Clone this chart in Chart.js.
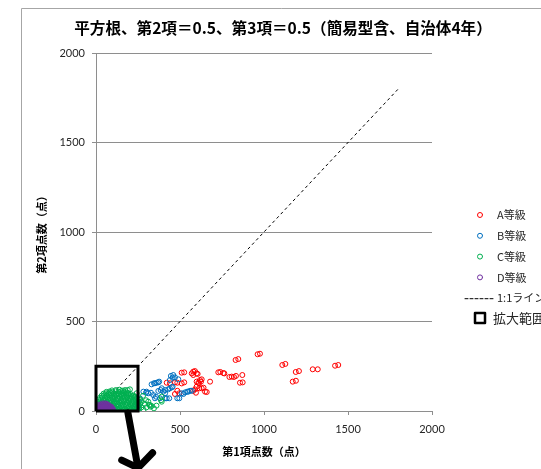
<!DOCTYPE html>
<html>
<head>
<meta charset="utf-8">
<script src="https://cdn.jsdelivr.net/npm/chart.js@4"></script>
<style>
  html, body { margin: 0; padding: 0; background: #fff; }
  canvas { display: block; }
</style>
</head>
<body>
<canvas id="c" width="541" height="469"></canvas>
<script>
// ---- text ----
const titleText = '平方根、第2項＝0.5、第3項＝0.5（簡易型含、自治体4年）';
const xTitle = '第1項点数（点）';
const yTitle = '第2項点数（点）';
const seriesNames = ['A等級', 'B等級', 'C等級', 'D等級'];
const refLineName = '1:1ライン';
const boxName = '拡大範囲';
const axisTicks = [0, 500, 1000, 1500, 2000];

// ---- data: [第1項点数, 第2項点数] ----
const gradeA = [
  [421,158],[440,155],[470,160],[484,158],[470,95],[484,113],[496,99],[510,154],[525,160],
  [510,214],[525,216],[579,220],[589,223],[605,207],[570,210],[599,210],[579,201],
  [599,164],[613,155],[625,164],[619,173],[629,177],[609,158],[599,136],[615,127],[629,127],
  [589,121],[579,113],[649,108],[659,106],[595,102],[640,130],[679,164],
  [728,216],[740,218],[758,212],[764,210],[794,190],[808,192],[821,190],[833,196],[871,201],
  [857,158],[873,160],[831,285],[847,290],[962,317],[976,320],
  [1109,257],[1127,263],[1189,218],[1208,223],[1171,164],[1190,169],
  [1290,233],[1320,233],[1423,253],[1442,257]
];
const gradeB = [
  [282,108],[298,102],[311,99],[327,102],[331,149],[351,155],[371,160],[341,89],[357,80],
  [371,112],[385,117],[401,108],[411,99],[421,71],[436,71],[440,127],[456,136],[446,196],
  [460,201],[470,188],[490,177],[484,71],[496,71],[510,99],[530,104],[543,108],[560,113],
  [301,108],[361,158],[376,164],[345,155],[351,71],[381,71],[411,71],[391,127],[411,117],
  [430,121],[451,132],[440,173],[456,186],[549,108],[570,113],[520,95],
  [232,20],[245,45],[240,60],[255,30],[250,8],[262,70],[238,35]
];
const gradeC = [
  [12,4],[28,6],[41,3],[57,7],[73,5],[88,2],[104,6],[119,4],[133,8],[148,3],[162,6],[177,5],
  [191,2],[206,7],[219,4],[233,6],[247,3],
  [7,16],[22,14],[36,17],[51,13],[66,15],[80,18],[95,14],[111,16],[126,13],[140,17],[155,15],
  [170,12],[184,16],[199,14],[213,18],[228,13],[242,15],[256,17],
  [3,28],[18,26],[33,29],[47,25],[61,27],[76,30],[92,26],[107,28],[121,24],[136,29],[151,27],
  [166,25],[180,30],[194,26],[209,28],[224,24],[238,29],[252,27],
  [10,40],[25,38],[40,41],[55,37],[69,39],[84,42],[99,38],[113,40],[129,36],[144,41],[158,39],
  [173,37],[188,42],[203,38],[217,40],[231,36],[246,41],[262,39],
  [6,50],[20,52],[35,49],[50,53],[64,51],[79,48],[94,52],[109,50],[124,54],[139,49],[153,51],
  [168,53],[183,48],[197,52],[212,50],[226,54],[241,49],[255,52],
  [15,62],[30,64],[44,61],[59,65],[73,63],[88,60],[103,64],[118,62],[133,66],[148,61],[163,63],
  [177,65],[192,60],[206,64],[221,62],[236,66],
  [24,74],[38,76],[53,73],[67,77],[82,75],[97,72],[112,76],[127,74],[142,78],[157,73],[171,75],
  [186,77],[200,72],[215,76],[230,74],
  [34,86],[48,88],[63,85],[78,89],[93,87],[108,84],[122,88],[137,86],[152,90],[166,85],[181,87],
  [195,89],[210,84],[224,86],
  [45,97],[60,99],[75,96],[90,100],[105,98],[120,95],[134,99],[149,97],[164,101],[178,96],
  [193,98],[207,94],
  [62,107],[80,109],[98,106],[116,110],[133,108],[150,111],[168,106],[185,104],
  [95,115],[118,117],[140,119],[160,114],
  [173,117],[189,117],[202,121],[242,99],[232,80],[246,70],[262,61],[272,52],[311,52],
  [321,34],[325,24],[317,34],[331,28],[391,80],[391,52],[387,60],[298,60],[280,85],
  [300,20],[345,15],[290,40],[270,20],[283,8],[360,30]
];
const gradeD = [
  [2,3],[14,4],[26,2],[38,3],[50,4],[62,2],[74,3],[86,4],[98,2],
  [6,11],[18,10],[30,12],[42,11],[54,10],[66,12],[78,11],[90,10],[102,9],
  [1,19],[12,18],[24,20],[36,19],[48,18],[60,20],[72,19],[84,18],[95,17],
  [8,27],[20,26],[32,28],[44,27],[56,26],[68,28],[80,26],[90,24],
  [15,35],[28,34],[40,36],[52,35],[64,34],[76,33],
  [35,42],[50,43],[62,41]
];
const refLine = [[0, 0], [1800, 1800]];
const zoomBox = [[0, 0], [250, 0], [250, 250], [0, 250], [0, 0]];
// arrow pointing down out of the enlarged range (data units)
const arrowShaft = [[190, -11], [250, -318]];
const arrowHead = [[153, -274], [250, -318], [337, -233]];

const colA = '#FF0000', colB = '#0070C0', colC = '#00B050', colD = '#7030A0';
const gridCol = '#8e8e8e';
const textCol = '#262626';
const cjk = '"Noto Sans CJK JP", "Noto Sans", sans-serif';
const numFont = 'Lato, "Noto Sans", sans-serif';

const toPts = a => a.map(([x, y]) => ({ x, y }));
const marker = (label, color, order, data) => ({
  label, data: toPts(data), order,
  borderColor: color, pointBorderColor: color,
  backgroundColor: 'rgba(0,0,0,0)', pointBackgroundColor: 'rgba(0,0,0,0)',
  pointRadius: 2.5, pointBorderWidth: 1, pointStyle: 'circle', showLine: false
});

const datasets = [
  marker(seriesNames[0], colA, 4, gradeA),
  marker(seriesNames[1], colB, 3, gradeB),
  marker(seriesNames[2], colC, 2, gradeC),
  marker(seriesNames[3], colD, 1, gradeD),
  { label: refLineName, data: toPts(refLine), order: 5, showLine: true,
    borderColor: '#000', borderWidth: 1, borderDash: [3, 3], pointRadius: 0, fill: false },
  { label: boxName, data: toPts(zoomBox), order: 0, showLine: true, clip: false,
    borderColor: '#000', borderWidth: 3, pointRadius: 0, fill: false, tension: 0 }
];

// white background, outer frame and title
const framePlugin = {
  id: 'frame',
  beforeDraw(chart) {
    const ctx = chart.ctx;
    ctx.save();
    ctx.fillStyle = '#fff';
    ctx.fillRect(0, 0, chart.width, chart.height);
    ctx.strokeStyle = '#a6a6a6';
    ctx.lineWidth = 1;
    ctx.beginPath();
    ctx.moveTo(21.5, chart.height);
    ctx.lineTo(21.5, 8.5);
    ctx.lineTo(chart.width, 8.5);
    ctx.stroke();
    ctx.fillStyle = '#000';
    ctx.font = 'bold 15.6px ' + cjk;
    ctx.textAlign = 'center';
    ctx.textBaseline = 'middle';
    ctx.fillText(titleText, 283, 28);
    ctx.restore();
  }
};

// legend on the right and the arrow below the enlarged range
const overlayPlugin = {
  id: 'overlay',
  afterDraw(chart) {
    const ctx = chart.ctx;
    const xs = chart.scales.x, ys = chart.scales.y;
    const px = p => [xs.getPixelForValue(p[0]), ys.getPixelForValue(p[1])];
    ctx.save();
    // arrow
    ctx.strokeStyle = '#000';
    ctx.lineWidth = 7;
    ctx.lineCap = 'round';
    ctx.lineJoin = 'round';
    ctx.beginPath();
    arrowShaft.forEach((p, i) => { const [a, b] = px(p); i ? ctx.lineTo(a, b) : ctx.moveTo(a, b); });
    ctx.stroke();
    ctx.beginPath();
    arrowHead.forEach((p, i) => { const [a, b] = px(p); i ? ctx.lineTo(a, b) : ctx.moveTo(a, b); });
    ctx.stroke();

    // legend
    const mx = 480, tx = 497;
    const rows = [215, 235.8, 256.6, 277.4, 298.2, 318];
    ctx.textAlign = 'left';
    ctx.textBaseline = 'middle';
    chart.data.datasets.forEach((ds, i) => {
      const y = rows[i];
      ctx.setLineDash([]);
      if (i < 4) {
        ctx.lineWidth = 1;
        ctx.strokeStyle = ds.borderColor;
        ctx.beginPath();
        ctx.arc(mx, y, 2.5, 0, Math.PI * 2);
        ctx.stroke();
        ctx.font = '11px ' + cjk;
      } else if (i === 4) {
        ctx.lineWidth = 1;
        ctx.strokeStyle = '#000';
        ctx.setLineDash([3, 2]);
        ctx.beginPath();
        ctx.moveTo(465, y + 0.5);
        ctx.lineTo(493, y + 0.5);
        ctx.stroke();
        ctx.font = '11px ' + cjk;
      } else {
        ctx.lineWidth = 2.5;
        ctx.strokeStyle = '#000';
        ctx.strokeRect(mx - 5, y - 5, 10, 10);
        ctx.font = '13px ' + cjk;
      }
      ctx.fillStyle = textCol;
      ctx.fillText(ds.label, i === 5 ? 493 : tx, y);
    });
    ctx.restore();
  }
};

const axisCommon = {
  type: 'linear', min: 0, max: 2000,
  afterBuildTicks: s => { s.ticks = axisTicks.map(v => ({ value: v })); },
  border: { display: true, color: gridCol, width: 1 }
};

new Chart(document.getElementById('c'), {
  type: 'scatter',
  data: { datasets },
  options: {
    responsive: false,
    animation: false,
    events: [],
    devicePixelRatio: 1,
    layout: { padding: { left: 0, right: 109, top: 53, bottom: 0 } },
    plugins: { legend: { display: false }, tooltip: { enabled: false }, title: { display: false } },
    scales: {
      x: Object.assign({}, axisCommon, {
        position: 'bottom',
        afterFit: s => { s.height = 58; },
        grid: { drawOnChartArea: false, drawTicks: true, tickLength: 4, color: gridCol },
        ticks: { padding: 8, color: textCol, font: { family: numFont, size: 11 }, maxRotation: 0,
                 callback: v => String(v) },
        title: { display: true, text: xTitle, color: '#000',
                 font: { family: cjk, size: 11, weight: 'bold' }, padding: { top: 0, bottom: 10.4 } }
      }),
      y: Object.assign({}, axisCommon, {
        position: 'left',
        afterFit: s => { s.width = 96; },
        grid: { drawOnChartArea: true, drawTicks: true, tickLength: 4, color: gridCol },
        ticks: { padding: 7, color: textCol, font: { family: numFont, size: 11 },
                 callback: v => String(v) },
        title: { display: true, text: yTitle, color: '#000',
                 font: { family: cjk, size: 11, weight: 'bold' }, padding: { top: 35.4, bottom: 0 } }
      })
    }
  },
  plugins: [framePlugin, overlayPlugin]
});
</script>
</body>
</html>
